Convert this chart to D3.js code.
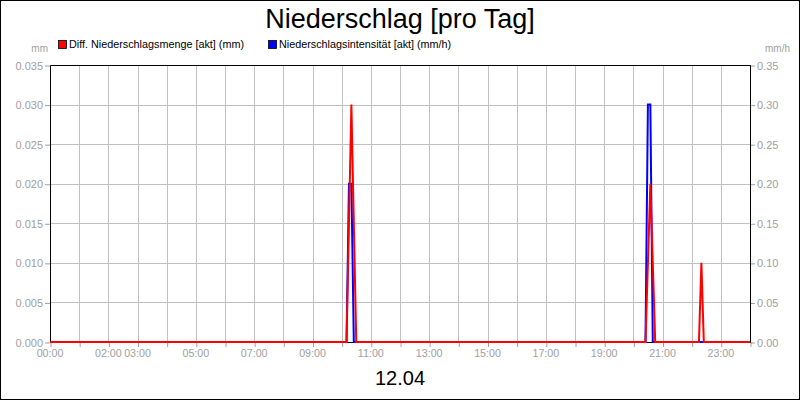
<!DOCTYPE html>
<html><head><meta charset="utf-8">
<script src="https://cdn.jsdelivr.net/npm/d3@7"></script>
<style>
html,body{margin:0;padding:0;background:#fff;}
svg{display:block;font-family:"Liberation Sans",Arial,sans-serif;}
</style></head>
<body>
<svg id="c" width="800" height="400"></svg>
<script>
// ---- data ----
const title = "Niederschlag [pro Tag]";
const dateLabel = "12.04";
const seriesNames = ["Diff. Niederschlagsmenge [akt] (mm)", "Niederschlagsintensität [akt] (mm/h)"];
const leftUnit = "mm";
const rightUnit = "mm/h";
const redTimes  = ["00:00","10:10","10:20","10:30","20:25","20:35","20:45","22:15","22:20","22:25","24:00"];
const redValues = [0, 0, 0.03, 0, 0, 0.02, 0, 0, 0.01, 0, 0];
const blueTimes  = ["00:00","10:10","10:15","10:20","10:25","20:25","20:30","20:35","20:40","24:00"];
const blueValues = [0, 0, 0.2, 0.2, 0, 0, 0.3, 0.3, 0, 0];
const xTickLabels = ["00:00","02:00","03:00","05:00","07:00","09:00","11:00","13:00","15:00","17:00","19:00","21:00","23:00"];
const leftTicks  = [0,0.005,0.01,0.015,0.02,0.025,0.03,0.035];
const rightTicks = [0,0.05,0.1,0.15,0.2,0.25,0.3,0.35];

// ---- layout ----
const svg = d3.select("#c");
const L = 50, R = 750, T = 65, B = 342;
const toH = s => { const [h,m] = s.split(":").map(Number); return h + m/60; };

const x = d3.scaleLinear().domain([0,24]).range([L,R]);
const yL = d3.scaleLinear().domain([0,0.035]).range([B,T]);
const yR = d3.scaleLinear().domain([0,0.35]).range([B,T]);

svg.append("rect").attr("x",0.5).attr("y",0.5).attr("width",799).attr("height",399)
  .attr("fill","#fff").attr("stroke","#000");

svg.append("text").attr("x",400).attr("y",28).attr("text-anchor","middle")
  .attr("font-size",27).attr("fill","#000").text(title);

// legend
const leg = [{c:"#ff0000",x:58,t:seriesNames[0]},{c:"#0000ff",x:268,t:seriesNames[1]}];
leg.forEach(d=>{
  svg.append("rect").attr("x",d.x+0.5).attr("y",40.5).attr("width",8).attr("height",8)
    .attr("fill",d.c).attr("stroke","#000").attr("stroke-width",0.8);
  svg.append("text").attr("x",d.x+11).attr("y",48).attr("font-size",10.8).attr("fill","#000").text(d.t);
});

svg.append("text").attr("x",48).attr("y",52).attr("text-anchor","end").attr("font-size",10).attr("fill","#a0a0a0").text(leftUnit);
svg.append("text").attr("x",790).attr("y",52).attr("text-anchor","end").attr("font-size",10).attr("fill","#a0a0a0").text(rightUnit);

// grid
const g = svg.append("g");
const hours = d3.range(0,25);
g.selectAll(".vg").data(hours.slice(1,24)).join("line")
  .attr("x1",d=>Math.round(x(d))+0.5).attr("x2",d=>Math.round(x(d))+0.5)
  .attr("y1",T).attr("y2",B).attr("stroke","#c0c0c0").attr("stroke-width",1);
g.selectAll(".hg").data(leftTicks.slice(1,-1)).join("line")
  .attr("x1",L).attr("x2",R)
  .attr("y1",d=>Math.round(yL(d))+0.5).attr("y2",d=>Math.round(yL(d))+0.5)
  .attr("stroke","#c0c0c0").attr("stroke-width",1);

// axes
const axL = d3.axisLeft(yL).tickValues(leftTicks).tickFormat(d3.format(".3f")).tickSize(5).tickPadding(2);
const axR = d3.axisRight(yR).tickValues(rightTicks).tickFormat(d3.format(".2f")).tickSize(5).tickPadding(2);
const axB = d3.axisBottom(x).tickValues(hours).tickFormat("").tickSize(5);
function style(sel){
  sel.select(".domain").remove();
  sel.selectAll(".tick line").attr("stroke","#a0a0a0");
  sel.selectAll(".tick text").attr("fill","#a0a0a0").attr("font-size",11)
    .attr("font-family","Liberation Sans, Arial, sans-serif");
}
svg.append("g").attr("transform",`translate(${L},0.5)`).call(axL).call(style);
svg.append("g").attr("transform",`translate(${R},0.5)`).call(axR).call(style);
svg.append("g").attr("transform",`translate(0.5,${B})`).call(axB).call(style);
svg.selectAll(".xl").data(xTickLabels).join("text")
  .attr("x",d=>x(toH(d))).attr("y",357).attr("text-anchor","middle")
  .attr("font-size",10.7).attr("fill","#a0a0a0").text(d=>d);

// frame
svg.append("path").attr("d",`M${L+0.5},${B+0.5}V${T+0.5}H${R+0.5}V${B+0.5}H${L+0.5}`)
  .attr("fill","none").attr("stroke","#000").attr("stroke-width",1);

// series
const blue = blueTimes.map((t,i)=>[toH(t),blueValues[i]]);
const red = redTimes.map((t,i)=>[toH(t),redValues[i]]);
svg.append("path").datum(blue)
  .attr("d",d3.line().x(d=>x(d[0])).y(d=>yR(d[1])))
  .attr("fill","none").attr("stroke","#0000ff").attr("stroke-width",2);
svg.append("path").datum(red)
  .attr("d",d3.line().x(d=>x(d[0])).y(d=>yL(d[1])))
  .attr("fill","none").attr("stroke","#ff0000").attr("stroke-width",2);

svg.append("text").attr("x",400).attr("y",385).attr("text-anchor","middle")
  .attr("font-size",20).attr("fill","#000").text(dateLabel);
</script>
</body></html>
